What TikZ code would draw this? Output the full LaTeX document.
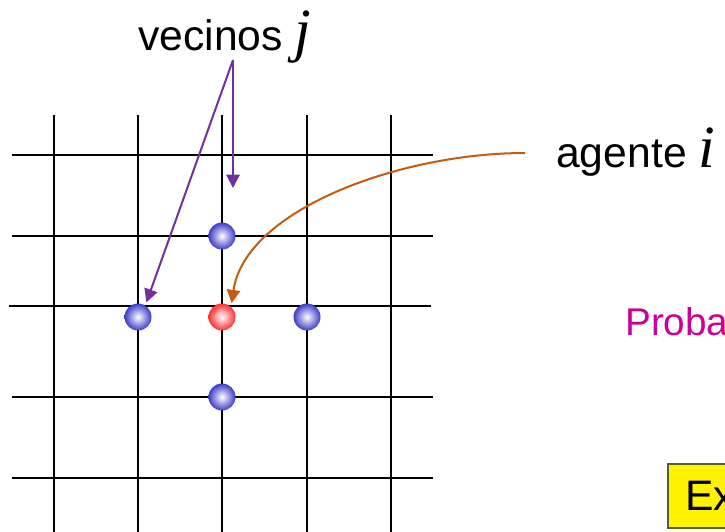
\documentclass[tikz,border=0pt]{standalone}
\usepackage{fontspec}
\setmainfont{Liberation Sans}
\newfontfamily\tnr{Liberation Serif}
\usetikzlibrary{arrows.meta,positioning}
\definecolor{purple}{HTML}{7030A0}
\definecolor{orange}{HTML}{C55A11}
\definecolor{magenta}{HTML}{CC0099}
\definecolor{olive}{HTML}{4F6228}
\definecolor{ballblue}{HTML}{3C3CC8}
\definecolor{ballred}{HTML}{FF3030}
\newcommand{\mv}[1]{{\tnr\itshape\fontsize{45}{50}\selectfont #1}}

\begin{document}
\begin{tikzpicture}[x=0.75pt,y=-0.75pt,
  grid/.style={line width=1.5pt},
  agent/.style={circle,minimum size=20.25pt,inner sep=0pt,outer sep=2.5pt,shading=radial,inner color=white,outer color=#1},
  lbl/.style={font=\fontsize{32}{36}\selectfont,inner sep=0pt,anchor=base west},
  nbarrow/.style={purple,line width=1.5pt,-{Triangle[length=10pt,width=10pt]}},
  agarrow/.style={orange,line width=1.5pt,-{Triangle[length=10pt,width=10pt]}},
  exbox/.style={draw=olive,line width=1.2pt,fill=yellow,anchor=north west,minimum height=48pt,text width=80pt,inner xsep=13pt,align=left,font=\fontsize{32}{36}\selectfont}]
\useasboundingbox (0,0) rectangle (725,532);
\clip (0,0) rectangle (725,532);
\foreach \x in {54,138,222,307,391} \draw[grid] (\x,115) -- (\x,540);
\foreach \y/\a/\b in {155/12/433,236/12/433,306/9/431,397/12/433,478/12/433} \draw[grid] (\a,\y) -- (\b,\y);
\node[agent=ballblue] (up) at (222,236) {};
\node[agent=ballblue] (left) at (138,317) {};
\node[agent=ballred] (red) at (222,317) {};
\node[agent=ballblue] (right) at (307,317) {};
\node[agent=ballblue] (down) at (222,397) {};
\node[lbl] (vec) at (138,50) {vecinos \mv{j}};
\node[lbl] (ag) at (556,167) {agente \mv{i}};
\node[lbl,text=magenta,font=\fontsize{29}{34}\selectfont] (prob) at (625,335) {Proba};
\node[exbox] (ex) at (667,463) {Ex};
\coordinate (vj) at (233,60);
\coordinate (vt) at (233,188);
\coordinate (ag0) at (525,153);
\draw[nbarrow] (vj) -- (left.60);
\draw[nbarrow] (vj) -- (vt);
\draw[agarrow] (ag0) .. controls (400,153) and (245,210) .. (red.55);
\end{tikzpicture}
\end{document}
